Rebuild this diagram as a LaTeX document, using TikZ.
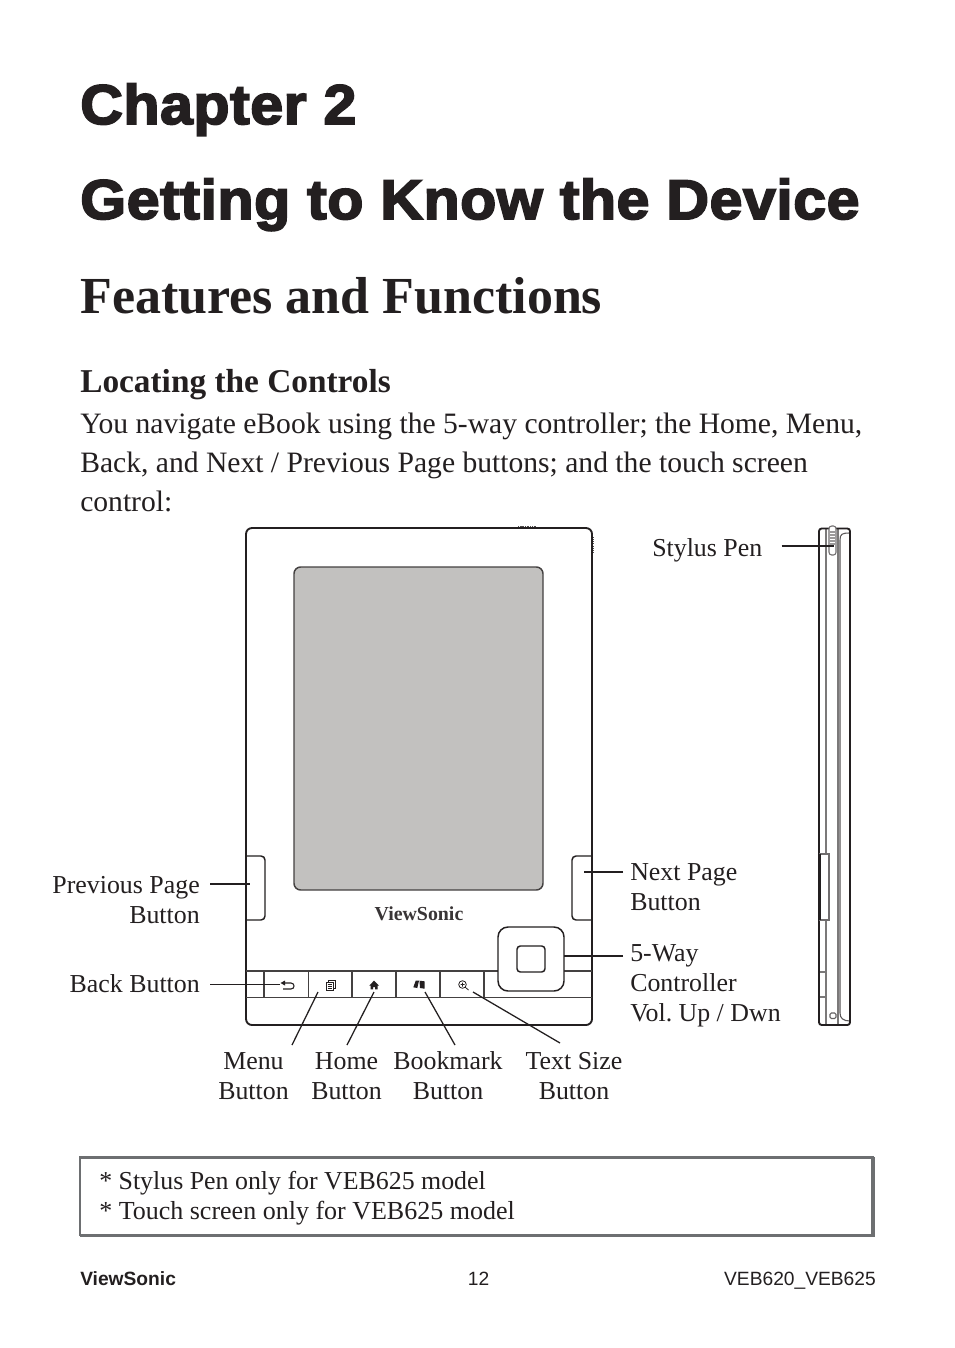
\documentclass[tikz,border=0pt]{standalone}
\usepackage{fontspec}
\setmainfont{Liberation Serif}
\setsansfont{Liberation Sans}
\newfontfamily\blackfont[FakeBold=3.2,FakeStretch=1.055,LetterSpace=0.95,Ligatures=NoCommon]{Liberation Sans Bold}
\usepackage{xcolor}
\usetikzlibrary{arrows.meta,positioning,calc}
\definecolor{screengrey}{HTML}{C2C1BF}
\definecolor{inkblack}{HTML}{231F20}
\definecolor{boxgrey}{HTML}{6D6F71}
\tikzset{
  headtext/.style={anchor=base west,inner sep=0pt,text=inkblack,font=\blackfont\fontsize{42}{48}\selectfont},
  bodytext/.style={anchor=base west,inner sep=0pt,text=inkblack,font=\fontsize{22.2}{29}\selectfont},
  calltext/.style={inner sep=0pt,text=inkblack,font=\frenchspacing\fontsize{19.4}{22.5}\selectfont},
  foottext/.style={anchor=base,inner sep=0pt,text=inkblack,font=\sffamily\fontsize{14.4}{17}\selectfont},
  leader/.style={draw=inkblack,line width=0.95pt},
  bodyline/.style={draw=inkblack,line width=1.4pt},
  thinline/.style={draw=inkblack!75,line width=0.8pt},
}
\begin{document}
\begin{tikzpicture}[x=0.75pt,y=-0.75pt]
\useasboundingbox (0,0) rectangle (954,1348);
\fill[white] (0,0) rectangle (954,1348);
% headings
\node[headtext] (chapter) at (80,124) {Chapter 2};
\node[headtext] (getting) at (80,219) {Getting to Know the Device};
\node[bodytext,font=\bfseries\fontsize{39}{48}\selectfont] (features) at (80,313) {Features and Functions};
\node[bodytext,font=\bfseries\fontsize{25}{30}\selectfont] (locating) at (80,392) {Locating the Controls};
\node[bodytext] (intro1) at (80,433.5) {You navigate eBook using the 5-way controller; the Home, Menu,};
\node[bodytext] (intro2) at (80,472.5) {Back, and Next / Previous Page buttons; and the touch screen};
\node[bodytext] (intro3) at (80,511.5) {control:};
% device front
\draw[bodyline,rounded corners=4.5pt] (246,528) rectangle (592,1025);
\draw[inkblack!80,line width=1.2pt,dash pattern=on 0.8pt off 0.5pt] (518,526.5) -- (537,526.5);
\draw[inkblack!80,line width=1.2pt,dash pattern=on 0.8pt off 0.8pt] (593.5,537) -- (593.5,552);
\draw[draw=inkblack!85,fill=screengrey,line width=1.1pt,rounded corners=5pt] (294,567) rectangle (543,890);
\draw[bodyline,line width=1.1pt,rounded corners=3pt] (246,856) -- (265,856) -- (265,920) -- (246,920);
\draw[bodyline,line width=1.1pt,rounded corners=3pt] (592,856) -- (572,856) -- (572,920) -- (592,920);
\node[inner sep=0pt,text=inkblack!90,font=\bfseries\fontsize{14.9}{17}\selectfont] (brand) at (419,913.5) {ViewSonic};
% button bar
\draw[thinline,draw=inkblack!85,line width=1.3pt] (246,971) -- (592,971) (246,997.5) -- (592,997.5);
\foreach \xbtn in {264,308.5,352,396,440,484}
  \draw[thinline,draw=inkblack!85,line width=1.2pt] (\xbtn,971) -- (\xbtn,997.5);
\draw[bodyline,line width=1.1pt,fill=white,rounded corners=7.5pt] (498,927) rectangle (564,991);
\draw[bodyline,line width=1.1pt,rounded corners=2.5pt] (517,946) rectangle (545,972);
% button icons
\draw[inkblack,line width=0.8pt] (284,983) -- (291,983) .. controls (295,983) and (295,989) .. (291,989) -- (283,989);
\fill[inkblack] (280.5,983) -- (285,980.5) -- (285,985.5) -- cycle;
\draw[inkblack,line width=0.7pt] (326.5,982) rectangle (333,990) (328.5,982) -- (328.5,980) -- (335,980) -- (335,988) -- (333,988);
\draw[inkblack,line width=0.5pt] (327.5,984) -- (332,984) (327.5,986) -- (332,986) (327.5,988) -- (332,988);
\fill[inkblack] (369.3,985.5) -- (374,980.7) -- (379,985.5) -- (377.5,985.5) -- (377.5,989.3) -- (375,989.3) -- (375,987) -- (373,987) -- (373,989.3) -- (370.7,989.3) -- (370.7,985.5) -- cycle;
\fill[inkblack] (413.3,987.3) -- (415.7,980.7) -- (419,980.7) -- (417.3,988) -- cycle (419.5,980.7) -- (424.5,981.3) -- (424.5,988.7) -- (420,988) -- cycle;
\draw[inkblack,line width=0.6pt] (462.5,984.5) circle (3.8) (460.5,984.5) -- (464.5,984.5) (462.5,982.5) -- (462.5,986.5) (465.3,987.3) -- (468.5,990);
% device side
\draw[thinline,draw=inkblack!60] (826,528) -- (826,1025) (838,528) -- (838,1025);
\draw[thinline] (840,1013) .. controls (840,1018) and (843,1021) .. (850,1021);
\draw[thinline] (840,1013) -- (840,540) .. controls (840,534) and (842,533) .. (850,533);
\draw[bodyline,rounded corners=2pt] (819,1025) -- (819,528.5) -- (850,528.5) -- (850,1025) -- cycle;
\draw[thinline,draw=inkblack!65,fill=white,rounded corners=2pt] (829,526) rectangle (836,555);
\fill[inkblack!45] (830,531) rectangle (835,545);
\foreach \yrib in {533,536,539,542}
  \draw[white,line width=0.45pt] (830,\yrib) -- (835,\yrib);
\draw[thinline,draw=inkblack!65,fill=white] (819,854) -- (829,854) -- (829,920) -- (819,920);
\draw[bodyline,line width=1.6pt] (820,854) -- (820,920);
\draw[thinline,draw=inkblack!60] (820,972) -- (826,972) (820,997) -- (826,997);
\draw[thinline,draw=inkblack!70,rounded corners=1pt] (830,1013) rectangle (836,1018.5);
% leader end points
\coordinate (prevend) at (250,884);
\coordinate (nextend) at (584,872);
\coordinate (wayend) at (564,956);
\coordinate (backend) at (280,984.5);
\coordinate (menuend) at (318,992);
\coordinate (homeend) at (374,992);
\coordinate (markend) at (425,992);
\coordinate (sizeend) at (473,992);
\coordinate (stylusend) at (834,546);
% callouts
\node[calltext,anchor=north east,align=right] (prevlabel) at (200,876) {Previous Page\\Button};
\node[calltext,anchor=north east] (backlabel) at (200,974) {Back Button};
\node[calltext,anchor=north west,align=left] (nextlabel) at (630,863) {Next Page\\Button};
\node[calltext,anchor=north west,align=left] (waylabel) at (630,944) {5-Way\\Controller\\Vol. Up / Dwn};
\node[calltext,anchor=north west] (styluslabel) at (652,538) {Stylus Pen};
\node[calltext,anchor=north,align=center] (menulabel) at (253.5,1052) {Menu\\Button};
\node[calltext,anchor=north,align=center] (homelabel) at (346.5,1052) {Home\\Button};
\node[calltext,anchor=north,align=center] (marklabel) at (448,1051) {Bookmark\\Button};
\node[calltext,anchor=north,align=center] (sizelabel) at (574,1052) {Text Size\\Button};
\draw[leader] ($(prevend -| prevlabel.east)+(10,0)$) -- (prevend);
\draw[leader] ($(backend -| backlabel.east)+(10,0)$) -- (backend);
\draw[leader] ($(nextend -| nextlabel.west)+(-7,0)$) -- (nextend);
\draw[leader] ($(wayend -| waylabel.west)+(-7,0)$) -- (wayend);
\draw[leader] ($(stylusend -| styluslabel.east)+(19,0)$) -- (stylusend);
\draw[leader] ($(menulabel.north)+(38.5,-7)$) -- (menuend);
\draw[leader] ($(homelabel.north)+(0.5,-7)$) -- (homeend);
\draw[leader] ($(marklabel.north)+(7,-6)$) -- (markend);
\draw[leader] ($(sizelabel.north)+(-14,-9)$) -- (sizeend);
% note box
\draw[draw=boxgrey,line width=1.8pt] (80,1157.5) rectangle (873,1235);
\draw[draw=boxgrey,line width=2.4pt] (80,1235.5) -- (873,1235.5) -- (873,1157);
\node[calltext,anchor=base west] (note1) at (99,1189) {* Stylus Pen only for VEB625 model};
\node[calltext,anchor=base west,font=\fontsize{19.5}{22.5}\selectfont] (note2) at (99,1219) {* Touch screen only for VEB625 model};
% footer
\node[foottext,anchor=base west,font=\sffamily\bfseries\fontsize{14.4}{17}\selectfont] (footbrand) at (80,1285.5) {ViewSonic};
\node[foottext] (footpage) at (478.5,1285.5) {12};
\node[foottext,anchor=base east] (footmodel) at (876,1285.5) {VEB620\_VEB625};
\end{tikzpicture}
\end{document}
